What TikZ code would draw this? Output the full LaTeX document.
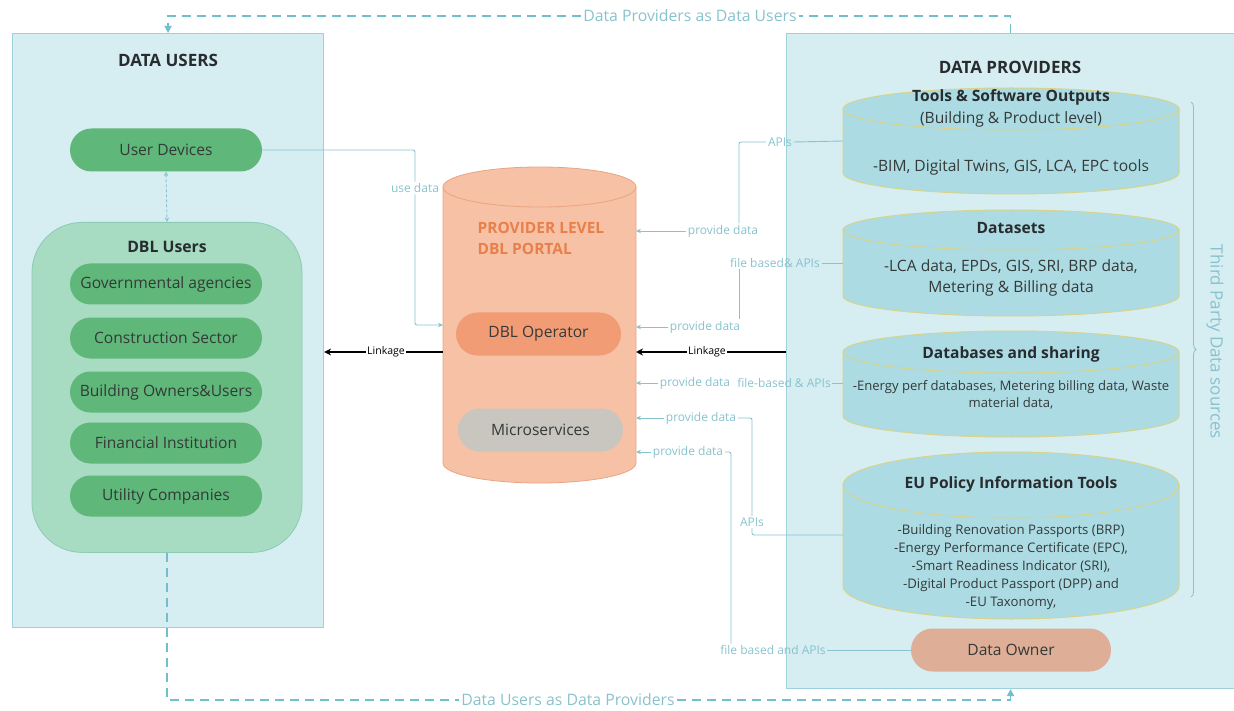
\documentclass[tikz,border=0pt]{standalone}
\usepackage{fontspec}
\setmainfont{Open Sans}
\usetikzlibrary{shapes.misc,arrows.meta,decorations.pathreplacing,calc}

\definecolor{panelfill}{RGB}{214,237,242}
\definecolor{panelline}{RGB}{160,208,220}
\definecolor{pillgreen}{RGB}{95,183,121}
\definecolor{groupgreen}{RGB}{167,219,194}
\definecolor{groupline}{RGB}{140,204,180}
\definecolor{darktext}{RGB}{40,44,46}
\definecolor{pilltext}{RGB}{52,58,56}
\definecolor{conn}{RGB}{135,196,208}
\definecolor{connlabel}{RGB}{136,194,205}
\definecolor{dashblue}{RGB}{112,190,206}
\definecolor{drumfill}{RGB}{172,219,228}
\definecolor{drumline}{RGB}{214,212,140}
\definecolor{portalfill}{RGB}{247,193,165}
\definecolor{portalline}{RGB}{232,165,130}
\definecolor{portaltitle}{RGB}{232,128,75}
\definecolor{operatorfill}{RGB}{241,156,116}
\definecolor{microfill}{RGB}{200,198,190}
\definecolor{ownerfill}{RGB}{222,174,150}

% a vertical drum: left x, right x, top centre y, bottom centre y, rim radius, style
\newcommand\drumbody[6]{%
  \pgfmathsetmacro\dcx{(#1+#2)/2}%
  \pgfmathsetmacro\drx{(#2-#1)/2}%
  \pgfmathsetmacro\dkx{0.5523*\drx}%
  \pgfmathsetmacro\dky{0.5523*#5}%
  \pgfmathsetmacro\dyb{#4+#5}%
  \pgfmathsetmacro\dybk{#4+\dky}%
  \path[#6] (#1,#3) -- (#1,#4) .. controls (#1,\dybk) and (\dcx-\dkx,\dyb) .. (\dcx,\dyb)
        .. controls (\dcx+\dkx,\dyb) and (#2,\dybk) .. (#2,#4) -- (#2,#3) -- cycle;
  \path[#6] (\dcx,#3) ellipse [x radius=\drx, y radius=#5];
}

\begin{document}
\begin{tikzpicture}[x=1pt,y=-1pt,
  panel/.style={draw=panelline, fill=panelfill, line width=1.1pt, inner sep=0pt},
  title/.style={font=\fontsize{17}{20}\selectfont\bfseries, text=darktext},
  pill/.style={rounded rectangle, fill=pillgreen, text=pilltext, inner sep=0pt,
    font=\fontsize{15.6}{18}\selectfont},
  group/.style={draw=groupline, fill=groupgreen, rounded corners=50pt, line width=0.8pt, inner sep=0pt},
  hit/.style={inner sep=0pt, outer sep=0pt},
  drumstyle/.style={fill=drumfill, draw=drumline, line width=1pt},
  drumhead/.style={font=\fontsize{15.6}{18}\selectfont\bfseries, text=darktext},
  drumtext/.style={font=\fontsize{15.6}{21}\selectfont, text=pilltext, align=center},
  drumsmall/.style={font=\fontsize{13.2}{18}\selectfont, text=pilltext, align=center},
  wire/.style={draw=conn, line width=0.9pt, rounded corners=2pt},
  tip/.style={-{Stealth[length=5pt,width=4.5pt]}},
  lab/.style={text=connlabel, font=\fontsize{12}{14}\selectfont, inner sep=1.5pt},
  linkwire/.style={draw=black, line width=1.3pt},
  linklab/.style={text=black, font=\fontsize{10.5}{12}\selectfont, inner sep=1.5pt},
  loop/.style={draw=dashblue, line width=1.6pt, dash pattern=on 9pt off 6pt},
  looptip/.style={-{Triangle[length=7pt,width=7pt]}},
  looplab/.style={text=connlabel, font=\fontsize{15.8}{18}\selectfont, inner sep=2pt}
]
\useasboundingbox (0,0) rectangle (1234,711);

% ---------- panels ----------
\node[panel, minimum width=311, minimum height=594, anchor=north west] (users) at (12,33) {};
\node[panel, minimum width=448, minimum height=655, anchor=north west] (prov) at (786,33) {};
\node[title] (userstitle) at (168,60) {DATA USERS};
\node[title] (provtitle) at (1010,67) {DATA PROVIDERS};

% ---------- data users ----------
\node[pill, minimum width=192, minimum height=43] (devices) at (166,150) {User Devices};
\node[group, minimum width=270, minimum height=330, anchor=north] (dbl) at (167,222) {};
\node[title, font=\fontsize{15.8}{18}\selectfont\bfseries] (dbltitle) at (167,247) {DBL Users};
\node[pill, minimum width=192, minimum height=41] (gov) at (166,284) {Governmental agencies};
\node[pill, minimum width=192, minimum height=41] (constr) at (166,338) {Construction Sector};
\node[pill, minimum width=192, minimum height=41] (owners) at (166,392) {Building Owners\&Users};
\node[pill, minimum width=192, minimum height=41] (fin) at (166,443) {Financial Institution};
\node[pill, minimum width=192, minimum height=41] (util) at (166,496) {Utility Companies};
\draw[draw=conn, line width=0.9pt, dash pattern=on 3pt off 2pt,
  {Stealth[length=4.5pt,width=4.5pt]}-{Stealth[length=4.5pt,width=4.5pt]}]
  (devices.south) -- (dbl.north);

% ---------- portal ----------
\drumbody{443}{636}{187}{463}{20}{fill=portalfill, draw=portalline, line width=0.8pt}
\node[hit, minimum width=193, minimum height=316] (portal) at (539.5,325) {};
\node[anchor=west, align=left, text=portaltitle, font=\fontsize{15.5}{21}\selectfont\bfseries]
  (portalname) at (474,238) {PROVIDER LEVEL\\DBL PORTAL};
\node[pill, fill=operatorfill, minimum width=165, minimum height=43] (operator) at (538.5,334) {DBL Operator};
\node[pill, fill=microfill, minimum width=165, minimum height=43] (micro) at (540.5,430) {Microservices};

% ---------- providers ----------
\drumbody{843}{1179}{109}{173}{21}{drumstyle}
\node[hit, minimum width=336, minimum height=106] (tools) at (1011,141) {};
\node[drumhead] (toolsT) at (1011,97) {Tools \& Software Outputs};
\node[drumtext] (toolsS) at (1011,119) {(Building \& Product level)};
\node[drumtext] (toolsB) at (1011,167) {-BIM, Digital Twins, GIS, LCA, EPC tools};

\drumbody{843}{1179}{230}{296}{20}{drumstyle}
\node[hit, minimum width=336, minimum height=106] (datasets) at (1011,263) {};
\node[drumhead] (datasetsT) at (1011,228) {Datasets};
\node[drumtext] (datasetsB) at (1011,278) {-LCA data, EPDs, GIS, SRI, BRP data,\\Metering \& Billing data};

\drumbody{843}{1179}{352}{416}{21}{drumstyle}
\node[hit, minimum width=336, minimum height=106] (dbshare) at (1011,384) {};
\node[drumhead] (dbshareT) at (1011,354) {Databases and sharing};
\node[drumsmall, font=\fontsize{13.1}{17.5}\selectfont] (dbshareB) at (1011,395)
  {-Energy perf databases, Metering billing data, Waste\\material data,};

\drumbody{843}{1179}{485}{586}{33}{drumstyle}
\node[hit, minimum width=336, minimum height=167] (policy) at (1011,535) {};
\node[drumhead] (policyT) at (1011,484) {EU Policy Information Tools};
\node[drumsmall] (policyB) at (1011,567)
  {-Building Renovation Passports (BRP)\\-Energy Performance Certificate (EPC),\\-Smart Readiness Indicator (SRI),\\-Digital Product Passport (DPP) and\\-EU Taxonomy,};

\node[pill, fill=ownerfill, minimum width=200, minimum height=43] (owner) at (1011,650) {Data Owner};

\coordinate (braceTop) at (1191,102);
\coordinate (braceBot) at (1191,597);
\draw[draw=conn, line width=0.8pt, decorate, decoration={brace, amplitude=5pt}] (braceTop) -- (braceBot);
\node[rotate=-90, text=connlabel, font=\fontsize{17}{19}\selectfont] (thirdparty) at (1215,342) {Third Party Data sources};

% ---------- connectors: users side ----------
\node[lab] (usedata) at (415,188) {use data};
\draw[wire] (devices.east) -| (usedata.north);
\draw[wire, tip] (usedata.south) |- (portal.west);

\node[linklab] (linkL) at (386,352) {Linkage};
\draw[linkwire] (portal.west |- linkL) -- (linkL.east);
\draw[linkwire, -{Stealth[length=7pt,width=7pt]}] (linkL.west) -- (linkL.west -| users.east);

% ---------- connectors: providers side ----------
\coordinate (railA) at (739,0);
\coordinate (railF) at (731,0);

\node[lab] (apisA) at (780,142) {APIs};
\node[lab] (pdA) at (723,231) {provide data};
\draw[wire] (tools.west) -- (apisA.east);
\draw[wire] (apisA.west) -| (pdA.north -| railA);
\draw[wire, tip] (pdA.west) -- (pdA.west -| portal.east);

\node[lab] (fbB) at (775,263) {file based\& APIs};
\node[lab] (pdB) at (705,327) {provide data};
\draw[wire] (datasets.west) -- (fbB.east);
\draw[wire] (fbB.south -| railA) -- (pdB.north -| railA);
\draw[wire, tip] (pdB.west) -- (pdB.west -| portal.east);

\node[linklab] (linkR) at (707,352) {Linkage};
\draw[linkwire] (prov.west |- linkR) -- (linkR.east);
\draw[linkwire, -{Stealth[length=7pt,width=7pt]}] (linkR.west) -- (linkR.west -| portal.east);

\node[lab] (pdD) at (695,383) {provide data};
\node[lab] (fbD) at (784,383) {file-based \& APIs};
\draw[wire] (dbshare.west |- fbD) -- (fbD.east);
\draw[wire, tip] (pdD.west) -- (pdD.west -| portal.east);

\node[lab] (pdE) at (701,418) {provide data};
\node[lab] (apisE) at (752,522) {APIs};
\draw[wire] (policy.west) -| (apisE.south);
\draw[wire] (apisE.north) |- (pdE.east);
\draw[wire, tip] (pdE.west) -- (pdE.west -| portal.east);

\node[lab] (pdF) at (688,452) {provide data};
\node[lab] (fbF) at (773,650) {file based and APIs};
\draw[wire] (owner.west) -- (fbF.east);
\draw[wire] (fbF.north -| railF) |- (pdF.east);
\draw[wire, tip] (pdF.west) -- (pdF.west -| portal.east);

% ---------- feedback loops ----------
\node[looplab] (topLoop) at (690,16) {Data Providers as Data Users};
\draw[loop] (prov.north) |- (topLoop.east);
\draw[loop, looptip] (topLoop.west) -| (users.north);

\node[looplab] (botLoop) at (568,700) {Data Users as Data Providers};
\draw[loop] (dbl.south) |- (botLoop.west);
\draw[loop, looptip] (botLoop.east) -| (prov.south);
\end{tikzpicture}
\end{document}
